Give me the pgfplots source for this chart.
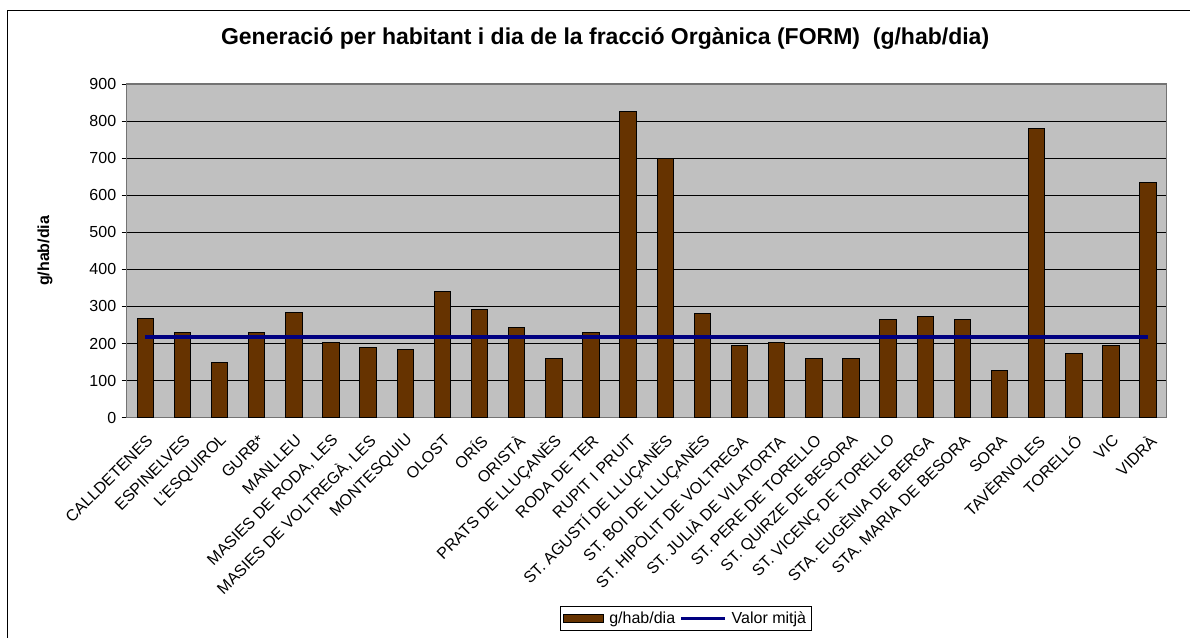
\documentclass[border=0pt]{standalone}
\usepackage{fontspec}
\setmainfont{Liberation Sans}
\usepackage{pgfplots}
\pgfplotsset{compat=1.18}
\definecolor{barbrown}{HTML}{663300}
\definecolor{plotgray}{HTML}{C0C0C0}
\definecolor{meannavy}{HTML}{000080}
\begin{document}
\begin{tikzpicture}
\draw[line width=1.3pt] (7.5pt,-2pt) -- (7.5pt,626.3pt) -- (1192pt,626.3pt);
\begin{axis}[
  at={(126.7pt,219.3pt)}, anchor=south west,
  scale only axis, width=1040pt, height=333.7pt,
  xmin=-0.5, xmax=27.5, ymin=0, ymax=900,
  ytick={0,100,...,900},
  xtick={0,...,27},
  xticklabels={CALLDETENES,ESPINELVES,L'ESQUIROL,GURB*,MANLLEU,{MASIES DE RODA, LES},{MASIES DE VOLTREGÀ, LES},MONTESQUIU,OLOST,ORÍS,ORISTÀ,PRATS DE LLUÇANÈS,RODA DE TER,RUPIT I PRUIT,ST. AGUSTÍ DE LLUÇANÈS,ST. BOI DE LLUÇANÈS,ST. HIPÒLIT DE VOLTREGA,ST. JULIÀ DE VILATORTA,ST. PERE DE TORELLO,ST. QUIRZE DE BESORA,ST. VICENÇ DE TORELLO,STA. EUGÈNIA DE BERGA,STA. MARIA DE BESORA,SORA,TAVÈRNOLES,TORELLÓ,VIC,VIDRÀ},
  minor xtick={-0.5,0.5,...,27.5},
  xtick style={draw=none},
  minor x tick style={black, line width=0.8pt},
  ytick style={black, line width=0.8pt},
  tick align=outside, tick pos=left,
  major tick length=5pt, minor tick length=6pt,
  ymajorgrids, grid style={black, line width=0.6pt},
  axis background/.style={fill=plotgray},
  axis line style={draw=gray!90!black, line width=1.2pt},
  tick label style={font=\fontsize{16}{18}\selectfont},
  /pgf/number format/assume math mode=true,
  yticklabel style={xshift=-2pt},
  xticklabel style={rotate=45, anchor=east, xshift=-4pt, yshift=-14pt},
  ylabel={g/hab/dia},
  ylabel style={at={(axis description cs:-0.0786,0.5)}, anchor=center, font=\bfseries\fontsize{16}{18}\selectfont},
  title={Generació per habitant i dia de la fracció Orgànica (FORM)\ \ (g/hab/dia)},
  title style={at={(axis description cs:0.46,1.118)}, anchor=center, font=\bfseries\fontsize{23}{27}\selectfont},
  legend columns=2,
  legend style={at={(axis description cs:0.4166,-0.5655)}, anchor=north west, draw=black, line width=0.8pt, font=\fontsize{16}{18}\selectfont, inner sep=3pt,
    /tikz/every odd column/.append style={column sep=3pt},
    /tikz/every even column/.append style={column sep=2pt}},
]
\addplot[ybar, bar width=16.5pt, fill=barbrown, draw=black, line width=1pt,
  legend image code/.code={\draw[fill=barbrown,draw=black,line width=1pt] (0pt,-4pt) rectangle (40pt,4pt);}]
coordinates {
(0,268) (1,230) (2,150) (3,230) (4,285) (5,202.5) (6,189) (7,184.5)
(8,340) (9,293) (10,243) (11,159) (12,230) (13,825) (14,700) (15,281)
(16,193.5) (17,204) (18,159) (19,159) (20,264.6) (21,272.7) (22,264.6)
(23,126) (24,779) (25,173) (26,193.5) (27,633)
};
\addlegendentry{g/hab/dia}
\addplot[meannavy, line width=4.3pt, no marks, sharp plot,
  legend image code/.code={\draw[meannavy,line width=3.5pt] (0pt,0pt) -- (44pt,0pt);}]
coordinates {
(0,218) (1,218) (2,218) (3,218) (4,218) (5,218) (6,218) (7,218)
(8,218) (9,218) (10,218) (11,218) (12,218) (13,218) (14,218) (15,218)
(16,218) (17,218) (18,218) (19,218) (20,218) (21,218) (22,218)
(23,218) (24,218) (25,218) (26,218) (27,218)
};
\addlegendentry{Valor mitjà}
\end{axis}
\pgfresetboundingbox
\path[use as bounding box] (0pt,0pt) rectangle (1190pt,637pt);
\end{tikzpicture}
\end{document}
